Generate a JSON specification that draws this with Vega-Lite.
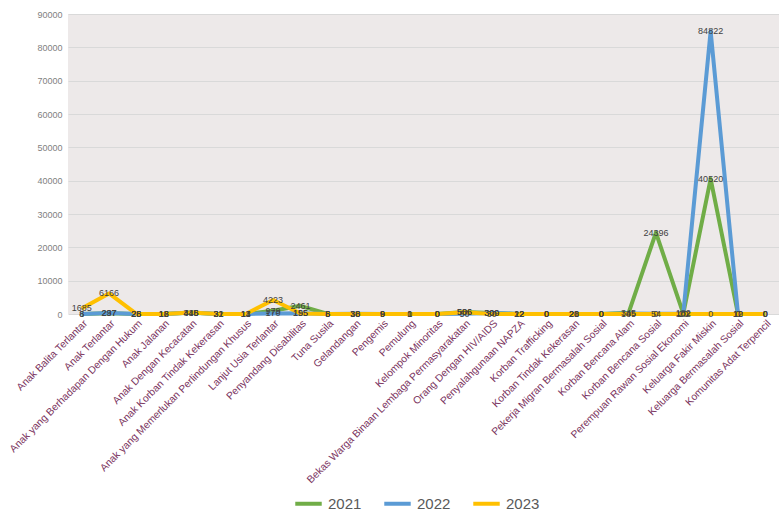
{
  "$schema": "https://vega.github.io/schema/vega-lite/v6.json",
  "width": 711,
  "height": 300,
  "autosize": {"type": "none"},
  "padding": {"left": 68, "top": 14, "right": 0, "bottom": 200},
  "background": "white",
  "config": {
    "view": {"fill": "#EDE9E9", "stroke": null},
    "font": "Liberation Sans"
  },
  "data": {
    "values": [
      {"kategori": "Anak Balita Terlantar", "tahun": "2021", "nilai": 6},
      {"kategori": "Anak Balita Terlantar", "tahun": "2022", "nilai": 8},
      {"kategori": "Anak Balita Terlantar", "tahun": "2023", "nilai": 1685},
      {"kategori": "Anak Terlantar", "tahun": "2021", "nilai": 237},
      {"kategori": "Anak Terlantar", "tahun": "2022", "nilai": 297},
      {"kategori": "Anak Terlantar", "tahun": "2023", "nilai": 6166},
      {"kategori": "Anak yang Berhadapan Dengan Hukum", "tahun": "2021", "nilai": 26},
      {"kategori": "Anak yang Berhadapan Dengan Hukum", "tahun": "2022", "nilai": 28},
      {"kategori": "Anak yang Berhadapan Dengan Hukum", "tahun": "2023", "nilai": 25},
      {"kategori": "Anak Jalanan", "tahun": "2021", "nilai": 16},
      {"kategori": "Anak Jalanan", "tahun": "2022", "nilai": 18},
      {"kategori": "Anak Jalanan", "tahun": "2023", "nilai": 12},
      {"kategori": "Anak Dengan Kecacatan", "tahun": "2021", "nilai": 345},
      {"kategori": "Anak Dengan Kecacatan", "tahun": "2022", "nilai": 448},
      {"kategori": "Anak Dengan Kecacatan", "tahun": "2023", "nilai": 416},
      {"kategori": "Anak Korban Tindak Kekerasan", "tahun": "2021", "nilai": 21},
      {"kategori": "Anak Korban Tindak Kekerasan", "tahun": "2022", "nilai": 32},
      {"kategori": "Anak Korban Tindak Kekerasan", "tahun": "2023", "nilai": 31},
      {"kategori": "Anak yang Memerlukan Perlindungan Khusus", "tahun": "2021", "nilai": 11},
      {"kategori": "Anak yang Memerlukan Perlindungan Khusus", "tahun": "2022", "nilai": 14},
      {"kategori": "Anak yang Memerlukan Perlindungan Khusus", "tahun": "2023", "nilai": 13},
      {"kategori": "Lanjut Usia Terlantar", "tahun": "2021", "nilai": 979},
      {"kategori": "Lanjut Usia Terlantar", "tahun": "2022", "nilai": 170},
      {"kategori": "Lanjut Usia Terlantar", "tahun": "2023", "nilai": 4223},
      {"kategori": "Penyandang Disabilitas", "tahun": "2021", "nilai": 2461},
      {"kategori": "Penyandang Disabilitas", "tahun": "2022", "nilai": 195},
      {"kategori": "Penyandang Disabilitas", "tahun": "2023", "nilai": 155},
      {"kategori": "Tuna Susila", "tahun": "2021", "nilai": 8},
      {"kategori": "Tuna Susila", "tahun": "2022", "nilai": 6},
      {"kategori": "Tuna Susila", "tahun": "2023", "nilai": 5},
      {"kategori": "Gelandangan", "tahun": "2021", "nilai": 16},
      {"kategori": "Gelandangan", "tahun": "2022", "nilai": 38},
      {"kategori": "Gelandangan", "tahun": "2023", "nilai": 30},
      {"kategori": "Pengemis", "tahun": "2021", "nilai": 9},
      {"kategori": "Pengemis", "tahun": "2022", "nilai": 9},
      {"kategori": "Pengemis", "tahun": "2023", "nilai": 6},
      {"kategori": "Pemulung", "tahun": "2021", "nilai": 1},
      {"kategori": "Pemulung", "tahun": "2022", "nilai": 1},
      {"kategori": "Pemulung", "tahun": "2023", "nilai": 0},
      {"kategori": "Kelompok Minoritas", "tahun": "2021", "nilai": 0},
      {"kategori": "Kelompok Minoritas", "tahun": "2022", "nilai": 0},
      {"kategori": "Kelompok Minoritas", "tahun": "2023", "nilai": 0},
      {"kategori": "Bekas Warga Binaan Lembaga Permasyarakatan", "tahun": "2021", "nilai": 586},
      {"kategori": "Bekas Warga Binaan Lembaga Permasyarakatan", "tahun": "2022", "nilai": 50},
      {"kategori": "Bekas Warga Binaan Lembaga Permasyarakatan", "tahun": "2023", "nilai": 506},
      {"kategori": "Orang Dengan HIV/AIDS", "tahun": "2021", "nilai": 309},
      {"kategori": "Orang Dengan HIV/AIDS", "tahun": "2022", "nilai": 300},
      {"kategori": "Orang Dengan HIV/AIDS", "tahun": "2023", "nilai": 30},
      {"kategori": "Penyalahgunaan NAPZA", "tahun": "2021", "nilai": 12},
      {"kategori": "Penyalahgunaan NAPZA", "tahun": "2022", "nilai": 22},
      {"kategori": "Penyalahgunaan NAPZA", "tahun": "2023", "nilai": 12},
      {"kategori": "Korban Trafficking", "tahun": "2021", "nilai": 0},
      {"kategori": "Korban Trafficking", "tahun": "2022", "nilai": 0},
      {"kategori": "Korban Trafficking", "tahun": "2023", "nilai": 0},
      {"kategori": "Korban Tindak Kekerasan", "tahun": "2021", "nilai": 21},
      {"kategori": "Korban Tindak Kekerasan", "tahun": "2022", "nilai": 28},
      {"kategori": "Korban Tindak Kekerasan", "tahun": "2023", "nilai": 20},
      {"kategori": "Pekerja Migran Bermasalah Sosial", "tahun": "2021", "nilai": 0},
      {"kategori": "Pekerja Migran Bermasalah Sosial", "tahun": "2022", "nilai": 0},
      {"kategori": "Pekerja Migran Bermasalah Sosial", "tahun": "2023", "nilai": 0},
      {"kategori": "Korban Bencana Alam", "tahun": "2021", "nilai": 345},
      {"kategori": "Korban Bencana Alam", "tahun": "2022", "nilai": 145},
      {"kategori": "Korban Bencana Alam", "tahun": "2023", "nilai": 0},
      {"kategori": "Korban Bencana Sosial", "tahun": "2021", "nilai": 24396},
      {"kategori": "Korban Bencana Sosial", "tahun": "2022", "nilai": 54},
      {"kategori": "Korban Bencana Sosial", "tahun": "2023", "nilai": 0},
      {"kategori": "Perempuan Rawan Sosial Ekonomi", "tahun": "2021", "nilai": 102},
      {"kategori": "Perempuan Rawan Sosial Ekonomi", "tahun": "2022", "nilai": 182},
      {"kategori": "Perempuan Rawan Sosial Ekonomi", "tahun": "2023", "nilai": 10},
      {"kategori": "Keluarga Fakir Miskin", "tahun": "2021", "nilai": 40520},
      {"kategori": "Keluarga Fakir Miskin", "tahun": "2022", "nilai": 84822},
      {"kategori": "Keluarga Fakir Miskin", "tahun": "2023", "nilai": 0},
      {"kategori": "Keluarga Bermasalah Sosial", "tahun": "2021", "nilai": 10},
      {"kategori": "Keluarga Bermasalah Sosial", "tahun": "2022", "nilai": 12},
      {"kategori": "Keluarga Bermasalah Sosial", "tahun": "2023", "nilai": 0},
      {"kategori": "Komunitas Adat Terpencil", "tahun": "2021", "nilai": 0},
      {"kategori": "Komunitas Adat Terpencil", "tahun": "2022", "nilai": 0},
      {"kategori": "Komunitas Adat Terpencil", "tahun": "2023", "nilai": 0}
    ]
  },
  "encoding": {
    "x": {
      "field": "kategori",
      "type": "nominal",
      "sort": null,
      "scale": {"type": "point", "padding": 0.5},
      "axis": {
        "title": null,
        "labelAngle": -45,
        "labelFontSize": 10.3,
        "labelColor": "#7B3460",
        "labelPadding": 4,
        "ticks": false,
        "domain": false,
        "grid": false,
        "labelLimit": 300
      }
    },
    "y": {
      "field": "nilai",
      "type": "quantitative",
      "scale": {"domain": [0, 90000], "nice": false},
      "axis": {
        "title": null,
        "values": [0, 10000, 20000, 30000, 40000, 50000, 60000, 70000, 80000, 90000],
        "format": "d",
        "labelFontSize": 9,
        "labelColor": "#7F7F7F",
        "labelPadding": 6,
        "ticks": false,
        "domain": false,
        "gridColor": "#D9D9D9",
        "gridWidth": 1
      }
    }
  },
  "layer": [
    {
      "mark": {"type": "line", "strokeWidth": 4, "strokeJoin": "round"},
      "encoding": {
        "color": {
          "field": "tahun",
          "type": "nominal",
          "scale": {"domain": ["2021", "2022", "2023"], "range": ["#70AD47", "#5B9BD5", "#FFC000"]},
          "legend": {
            "title": null,
            "orient": "none",
            "legendX": 225,
            "legendY": 474,
            "direction": "horizontal",
            "symbolType": "stroke",
            "symbolSize": 700,
            "symbolStrokeWidth": 4,
            "labelFontSize": 15,
            "labelColor": "#595959",
            "columnPadding": 14,
            "labelOffset": 4
          }
        }
      }
    },
    {
      "mark": {"type": "text", "fontSize": 9, "color": "#404040", "baseline": "middle", "align": "center"},
      "encoding": {
        "text": {"field": "nilai", "type": "quantitative", "format": "d"},
        "detail": {"field": "tahun"}
      }
    }
  ]
}
